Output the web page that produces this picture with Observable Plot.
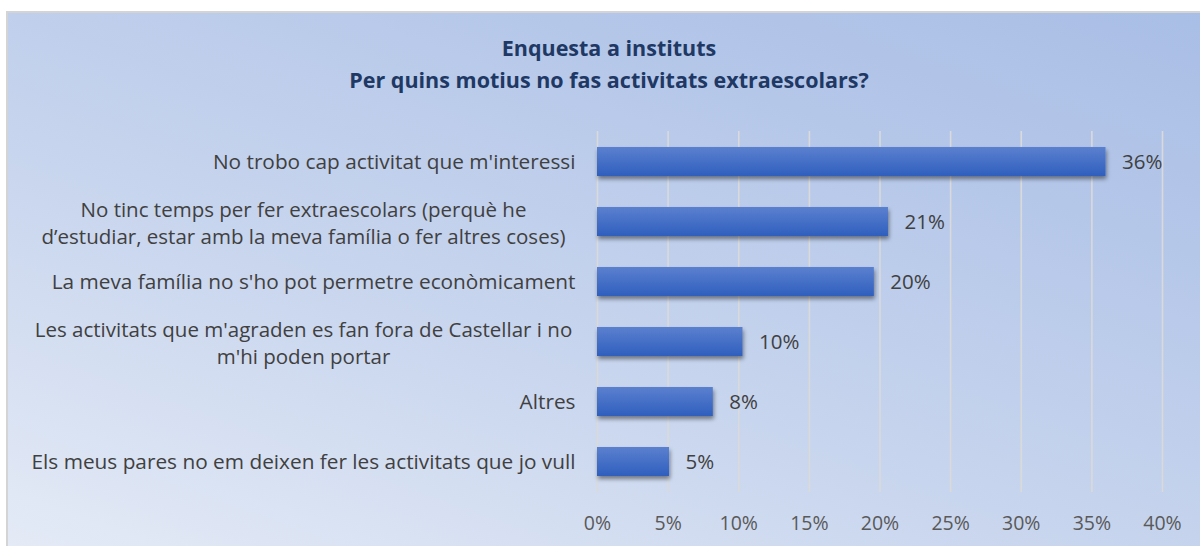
<!DOCTYPE html>
<html>
<head>
<meta charset="utf-8">
<script src="https://cdn.jsdelivr.net/npm/d3@7"></script>
<script src="https://cdn.jsdelivr.net/npm/@observablehq/plot@0.6"></script>
<style>
  html, body { margin: 0; padding: 0; background: #ffffff; width: 1200px; height: 546px; overflow: hidden; }
  #frame {
    position: absolute; left: 6px; top: 11px; width: 1210px; height: 560px;
    border-left: 2px solid #d4d4d4; border-top: 2px solid #d4d4d4;
    background: linear-gradient(20deg, #e6ecf7 0%, #c9d6ee 40%, #b5c7e9 75%, #a9bee6 100%);
  }
  .title {
    position: absolute; left: 0; width: 1218px; text-align: center; line-height: 30px;
    font-family: "Open Sans", sans-serif; font-weight: bold; font-size: 21.5px; color: #203864;
  }
  #chart { position: absolute; left: 0; top: 0; }
</style>
</head>
<body>
<div id="frame"></div>
<div class="title" style="top:33px">Enquesta a instituts</div>
<div class="title" style="top:65px">Per quins motius no fas activitats extraescolars?</div>
<div id="chart"></div>
<script>
const categories = [
  "No trobo cap activitat que m'interessi",
  "No tinc temps per fer extraescolars (perquè he\nd’estudiar, estar amb la meva família o fer altres coses)",
  "La meva família no s'ho pot permetre econòmicament",
  "Les activitats que m'agraden es fan fora de Castellar i no\nm'hi poden portar",
  "Altres",
  "Els meus pares no em deixen fer les activitats que jo vull"
];
const values = [0.36, 0.206, 0.196, 0.103, 0.082, 0.051];
const valueLabels = ["36%", "21%", "20%", "10%", "8%", "5%"];
const xTicks = [0, 0.05, 0.10, 0.15, 0.20, 0.25, 0.30, 0.35, 0.40];

const data = categories.map((c, i) => ({label: c, value: values[i], text: valueLabels[i]}));

const svg = Plot.plot({
  width: 1200,
  height: 546,
  marginLeft: 597,
  marginRight: 38,
  marginTop: 131,
  marginBottom: 54,
  style: {background: "transparent", fontFamily: "'Open Sans', sans-serif", fontSize: "19.5px", color: "#595959", overflow: "visible"},
  x: {domain: [0, 0.4], ticks: xTicks, tickFormat: d3.format(".0%"), tickSize: 0, tickPadding: 24, label: null},
  y: {domain: categories, axis: null, paddingInner: 0.52, paddingOuter: 0.26},
  marks: [
    Plot.ruleX(xTicks, {stroke: "#dadada", strokeWidth: 1.6}),
    Plot.barX(data, {x: "value", y: "label", fill: "url(#barGrad)"}),
    Plot.text(data, {x: "value", y: "label", text: "text", textAnchor: "start", dx: 16, fill: "#404040", fontSize: 20.5}),
    Plot.text(data.filter(d => !d.label.includes("\n")), {x: d => 0, y: "label", text: "label", textAnchor: "end", dx: -22, fill: "#404040", fontSize: 20.8}),
    Plot.text(data.filter(d => d.label.includes("\n")), {x: d => 0, y: "label", text: "label", textAnchor: "middle", dx: -294, fill: "#404040", fontSize: 20.5, lineHeight: 1.3})
  ]
});

const s = d3.select(svg);
const defs = s.insert("defs", ":first-child");
const g = defs.append("linearGradient").attr("id", "barGrad").attr("x1", 0).attr("y1", 0).attr("x2", 0).attr("y2", 1);
g.append("stop").attr("offset", "0%").attr("stop-color", "#5b80cf");
g.append("stop").attr("offset", "100%").attr("stop-color", "#2f5fbe");
const f = defs.append("filter").attr("id", "shadow").attr("x", "-10%").attr("y", "-30%").attr("width", "130%").attr("height", "190%");
f.append("feDropShadow").attr("dx", 1).attr("dy", 3).attr("stdDeviation", 2).attr("flood-color", "#000").attr("flood-opacity", 0.45);
s.selectAll("g[aria-label='bar']").attr("filter", "url(#shadow)");

document.getElementById("chart").appendChild(svg);
</script>
</body>
</html>
